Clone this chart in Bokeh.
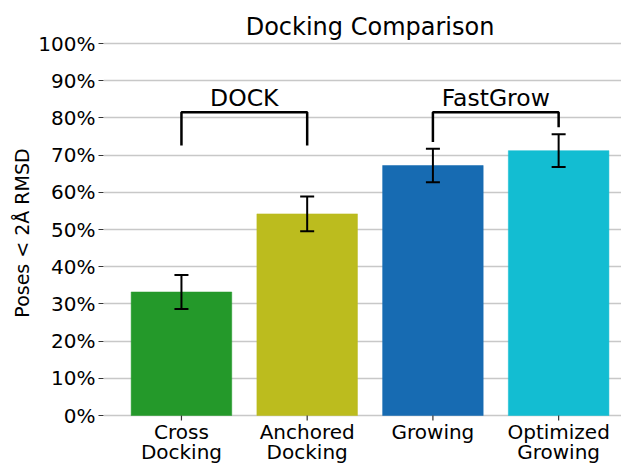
from bokeh.plotting import figure
from bokeh.models import (ColumnDataSource, Whisker, TeeHead, Range1d, FixedTicker,
                          NumeralTickFormatter)
from bokeh.core.properties import value
from bokeh.embed import file_html
from bokeh.resources import INLINE

categories = ["Cross\nDocking", "Anchored\nDocking", "Growing", "Optimized\nGrowing"]
positions = [0, 1, 2, 3]
success = [0.332, 0.542, 0.672, 0.712]
err = [0.046, 0.047, 0.045, 0.044]
colors = ["#24992a", "#bcbc1e", "#176bb2", "#13bdd2"]

group_labels = ["DOCK", "FastGrow"]
group_centers = [0.5, 2.5]
bracket_xs = [[0, 0, 1, 1], [2, 2, 3, 3]]
bracket_ys = [[0.726, 0.815, 0.815, 0.726], [0.735, 0.815, 0.815, 0.775]]
yticks = [i / 10 for i in range(11)]
title_text = "Docking Comparison"

FONT = "DejaVu Sans"
PX = 372.0  # pixels per unit of the value axis (0% -> 100%)
SHIFT = 8.0  # baseline correction of the svg text renderer, in px

# frame spans the whole canvas height; value range chosen so that 0% sits at
# 50 px from the bottom and 100% at 43 px from the top
y_lo = -50 / PX
y_hi = 1 + 43 / PX

p = figure(width=621, height=465, output_backend="svg", toolbar_location=None,
           x_range=Range1d(-0.62, 3.5), y_range=Range1d(y_lo, y_hi),
           min_border_left=103, min_border_right=0, min_border_top=0,
           min_border_bottom=0)
p.outline_line_color = None
p.background_fill_color = "white"
p.border_fill_color = "white"
p.xaxis.visible = False

src = ColumnDataSource(dict(x=positions, top=success, color=colors,
                            upper=[s + e for s, e in zip(success, err)],
                            lower=[s - e for s, e in zip(success, err)]))
p.vbar(x="x", top="top", width=0.8, bottom=0, fill_color="color",
       line_color="color", line_width=0.5, source=src)

w = Whisker(base="x", upper="upper", lower="lower", source=src, dimension="height",
            line_color="black", line_width=2, level="overlay",
            upper_head=TeeHead(size=14, line_width=2, line_color="black"),
            lower_head=TeeHead(size=14, line_width=2, line_color="black"))
p.add_layout(w)

p.multi_line(xs=bracket_xs, ys=bracket_ys, line_color="black", line_width=2.5)

p.text(x=group_centers, y=[(310 + SHIFT) / PX] * 2, text=group_labels,
       text_align="center", text_baseline="alphabetic", text_font=value(FONT),
       text_font_size="23.5px", text_color="black")

p.text(x=[1.5], y=[1 + (9 + SHIFT) / PX], text=[title_text], text_align="center",
       text_baseline="alphabetic", text_font=value(FONT), text_font_size="24px",
       text_color="black")

# category axis: tick marks and two-line labels
p.segment(x0=positions, x1=positions, y0=[0] * 4, y1=[-5 / PX] * 4,
          line_color="#333333", line_width=1.2)
line1 = [c.split("\n")[0] for c in categories]
line2 = [c.split("\n")[1] if "\n" in c else "" for c in categories]
p.text(x=positions, y=[(-24 + SHIFT) / PX] * 4, text=line1, text_align="center",
       text_baseline="alphabetic", text_font=value(FONT), text_font_size="20px",
       text_color="black")
p.text(x=positions, y=[(-44 + SHIFT) / PX] * 4, text=line2, text_align="center",
       text_baseline="alphabetic", text_font=value(FONT), text_font_size="20px",
       text_color="black")

# value axis
p.yaxis.ticker = FixedTicker(ticks=yticks)
p.yaxis.formatter = NumeralTickFormatter(format="0%")
p.yaxis.axis_line_color = None
p.yaxis.minor_tick_line_color = None
p.yaxis.major_tick_out = 5
p.yaxis.major_tick_in = 0
p.yaxis.major_tick_line_color = "#333333"
p.yaxis.major_label_text_font = FONT
p.yaxis.major_label_text_font_size = "20px"
p.yaxis.major_label_text_color = "black"
p.yaxis.major_label_standoff = 3
p.yaxis.axis_label = "Poses < 2Å RMSD"
p.yaxis.axis_label_text_font = FONT
p.yaxis.axis_label_text_font_size = "19px"
p.yaxis.axis_label_text_font_style = "normal"
p.yaxis.axis_label_text_color = "black"
p.yaxis.axis_label_standoff = 2

p.xgrid.grid_line_color = None
p.ygrid.grid_line_color = "#c8c8c8"
p.ygrid.grid_line_width = 1.3
p.ygrid.level = "underlay"

open("out.html", "w").write(file_html(p, INLINE))
